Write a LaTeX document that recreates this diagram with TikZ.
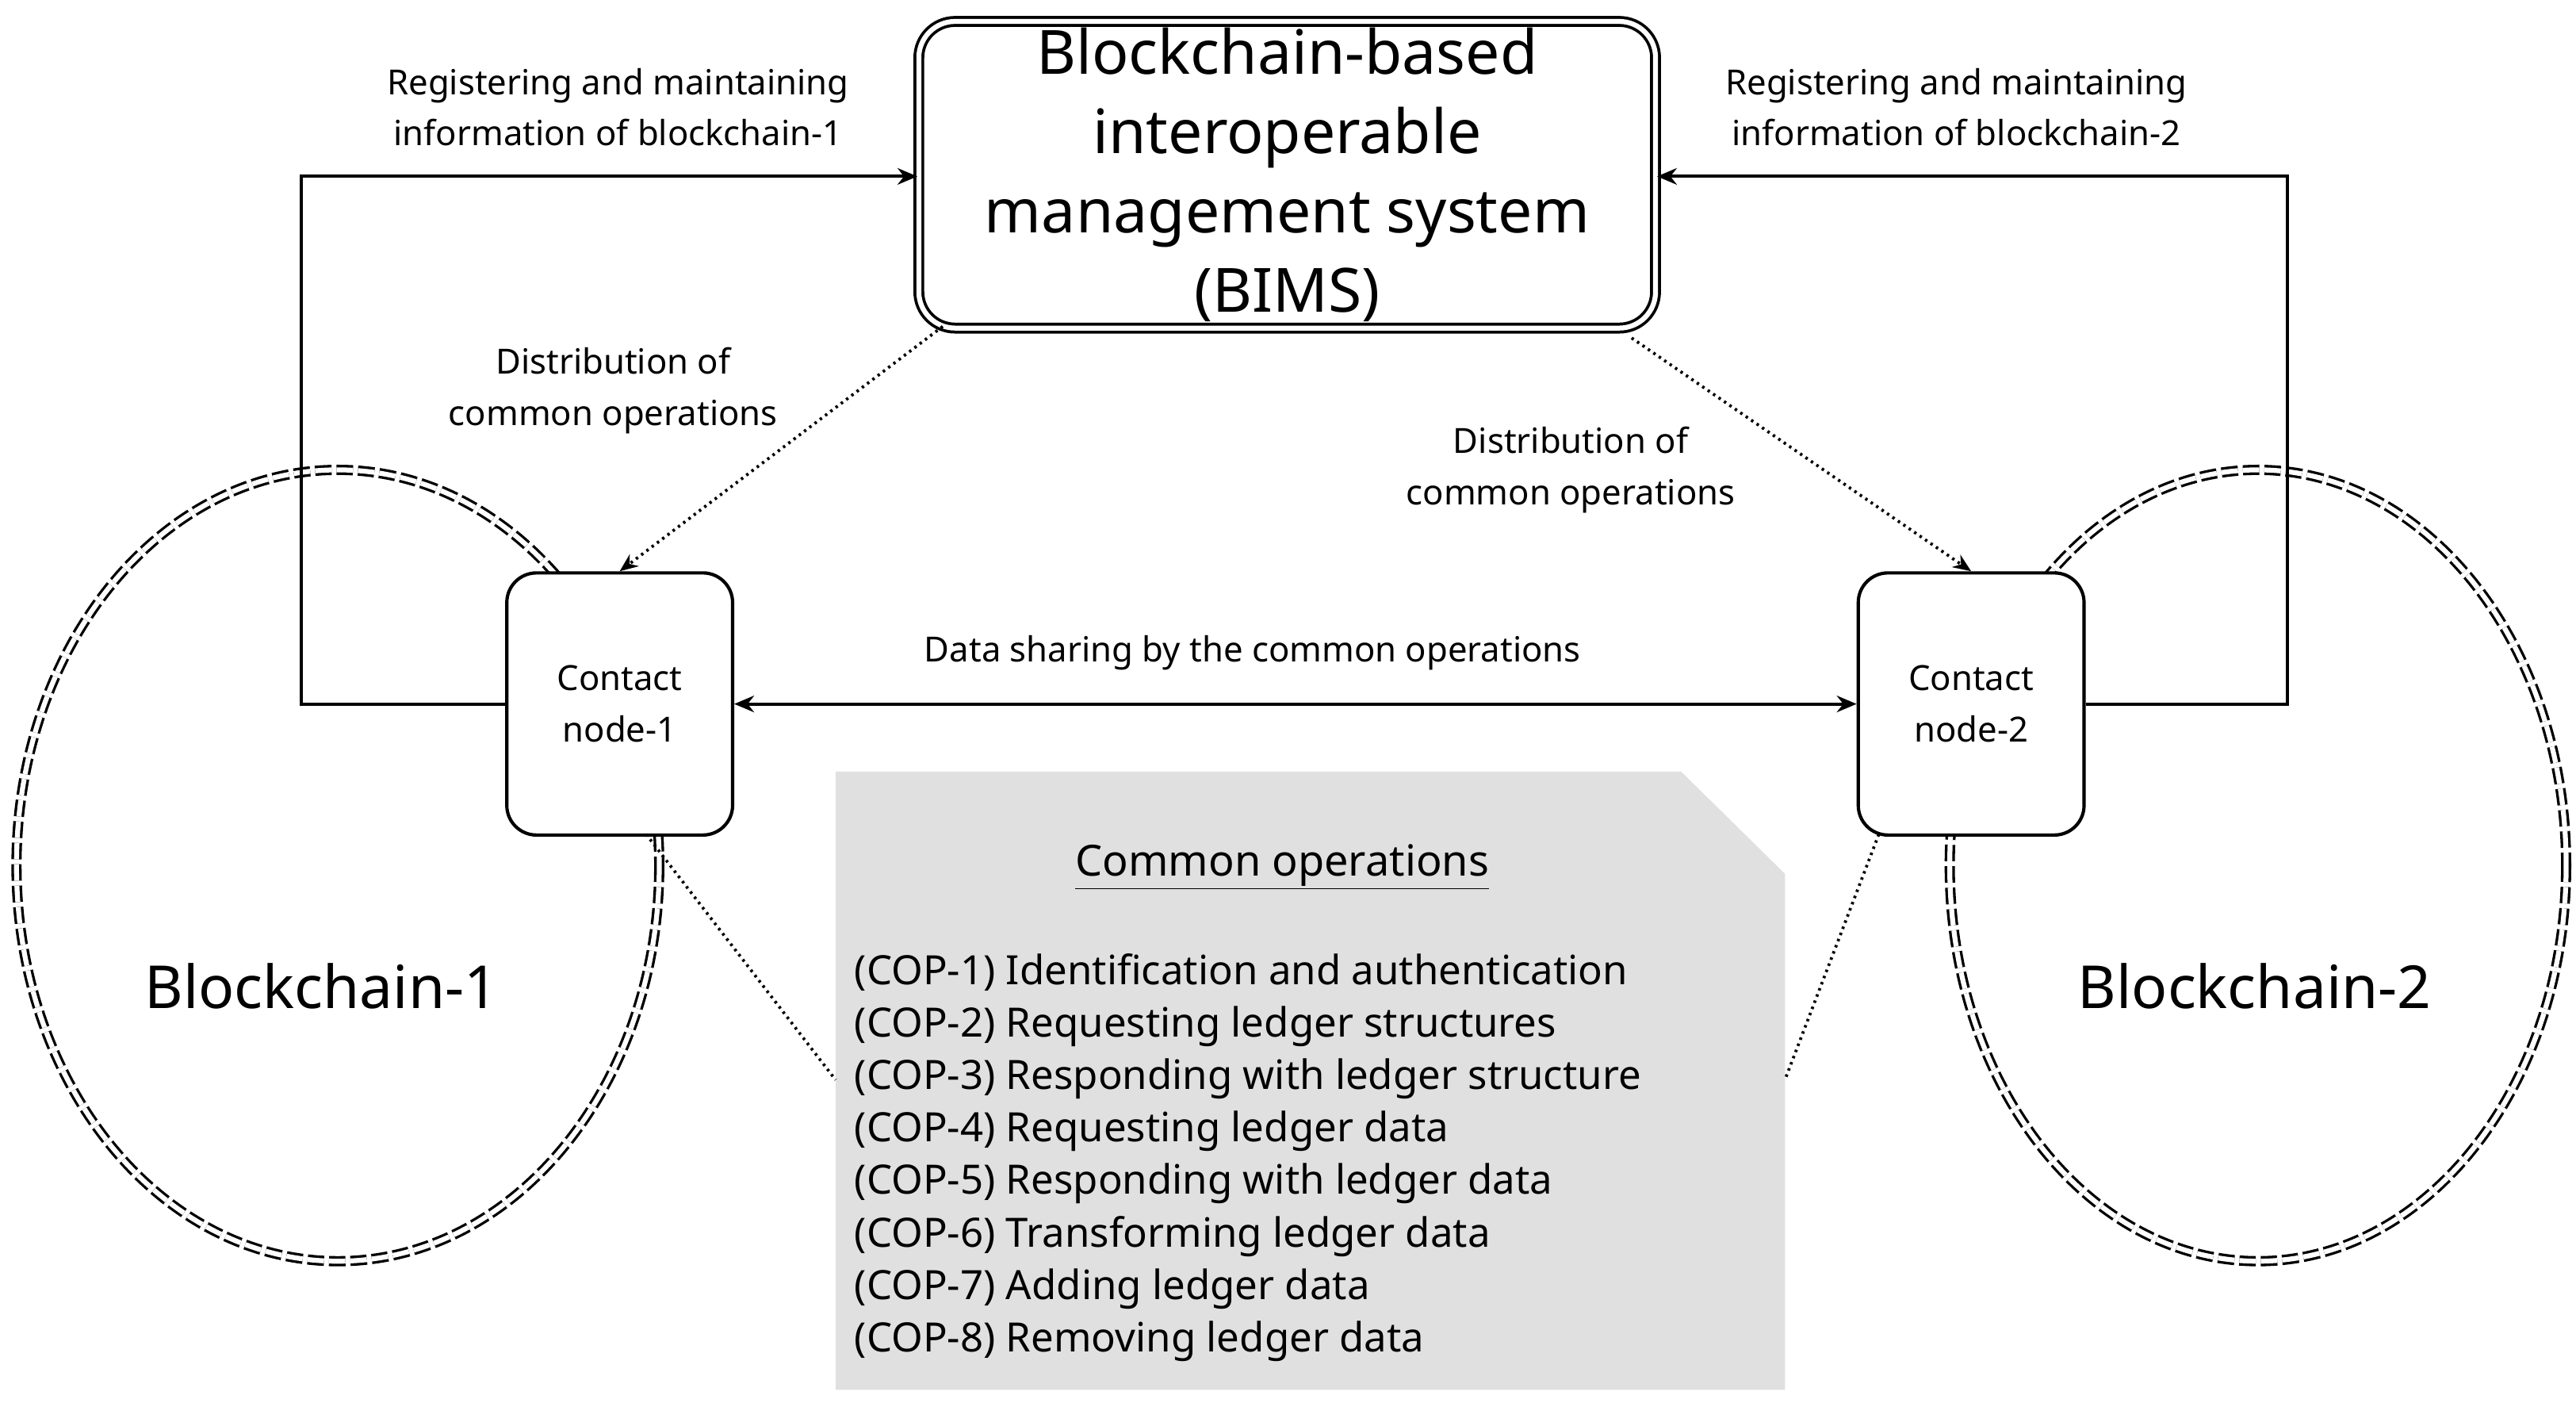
\documentclass[tikz,border=0pt]{standalone}
\usepackage{fontspec}
\setmainfont{Noto Sans}
\usetikzlibrary{arrows.meta}
\begin{document}
\begin{tikzpicture}[x=1pt,y=-1pt,
  lbl/.style={font=\fontsize{21}{31}\selectfont,align=center},
  cn/.style={draw,line width=2pt,rounded corners=18pt,fill=white,minimum width=137pt,minimum height=159pt,font=\fontsize{21}{31}\selectfont,align=center},
  ell/.style={double,double distance=3pt,line width=1.6pt,dash pattern=on 10pt off 3pt},
  arr/.style={line width=2pt,-{Stealth[length=12pt,width=10pt]}},
  dot/.style={line width=1.8pt,dash pattern=on 1.5pt off 2.5pt}]
\useasboundingbox (0,0) rectangle (1563,851);
\draw[ell] (205,525) ellipse[x radius=195,y radius=240];
\draw[ell] (1370,525) ellipse[x radius=187,y radius=240];
\node[draw,double,double distance=3pt,line width=1.8pt,rounded corners=22pt,minimum width=447pt,minimum height=186pt,font=\fontsize{37}{48}\selectfont,align=center] (bims) at (781,106) {Blockchain-based\\interoperable\\management system\\(BIMS)};
\node[cn] (c1) at (376,427) {Contact\\node-1};
\node[cn] (c2) at (1196,427) {Contact\\node-2};
\coordinate (l1) at (183,427); \coordinate (l2) at (183,107);
\coordinate (r1) at (1388,427); \coordinate (r2) at (1388,107);
\draw[arr] (c1.west) -- (l1) -- (l2) -- (bims.west|-l2);
\draw[arr] (c2.east) -- (r1) -- (r2) -- (bims.east|-r2);
\node[lbl] (t1) at (375,65) {Registering and maintaining\\information of blockchain-1};
\node[lbl] (t2) at (1187,65) {Registering and maintaining\\information of blockchain-2};
\coordinate (d1) at (572,198); \coordinate (d2) at (990,205);
\draw[dot,-{Stealth[length=11pt,width=9pt]}] (d1) -- (c1.north);
\draw[dot,-{Stealth[length=11pt,width=9pt]}] (d2) -- (c2.north);
\node[lbl] (t3) at (372,237) {Distribution of\\common operations};
\node[lbl] (t4) at (953,285) {Distribution of\\common operations};
\draw[line width=2pt,{Stealth[length=12pt,width=10pt]}-{Stealth[length=12pt,width=10pt]}] (c1.east) -- (c2.east-|c2.west);
\node[lbl] (t5) at (760,396) {Data sharing by the common operations};
\draw[fill=black!12,draw=none] (507,468) -- (1020,468) -- (1083,530) -- (1083,843) -- (507,843) -- cycle;
\coordinate (b1) at (507,655); \coordinate (b2) at (1083,655);
\coordinate (e1) at (392,506); \coordinate (e2) at (1140,506);
\draw[dot] (e1) -- (b1);
\draw[dot] (e2) -- (b2);
\node[font=\fontsize{26}{30}\selectfont] (co) at (778,526) {\underline{Common operations}};
\node[anchor=north west,font=\fontsize{24.5}{31.8}\selectfont,align=left] (list) at (515,575) {(COP-1) Identification and authentication\\(COP-2) Requesting ledger structures\\(COP-3) Responding with ledger structure\\(COP-4) Requesting ledger data\\(COP-5) Responding with ledger data\\(COP-6) Transforming ledger data\\(COP-7) Adding ledger data\\(COP-8) Removing ledger data};
\node[font=\fontsize{36}{40}\selectfont] (bc1) at (195,598) {Blockchain-1};
\node[font=\fontsize{36}{40}\selectfont] (bc2) at (1368,598) {Blockchain-2};
\end{tikzpicture}
\end{document}
